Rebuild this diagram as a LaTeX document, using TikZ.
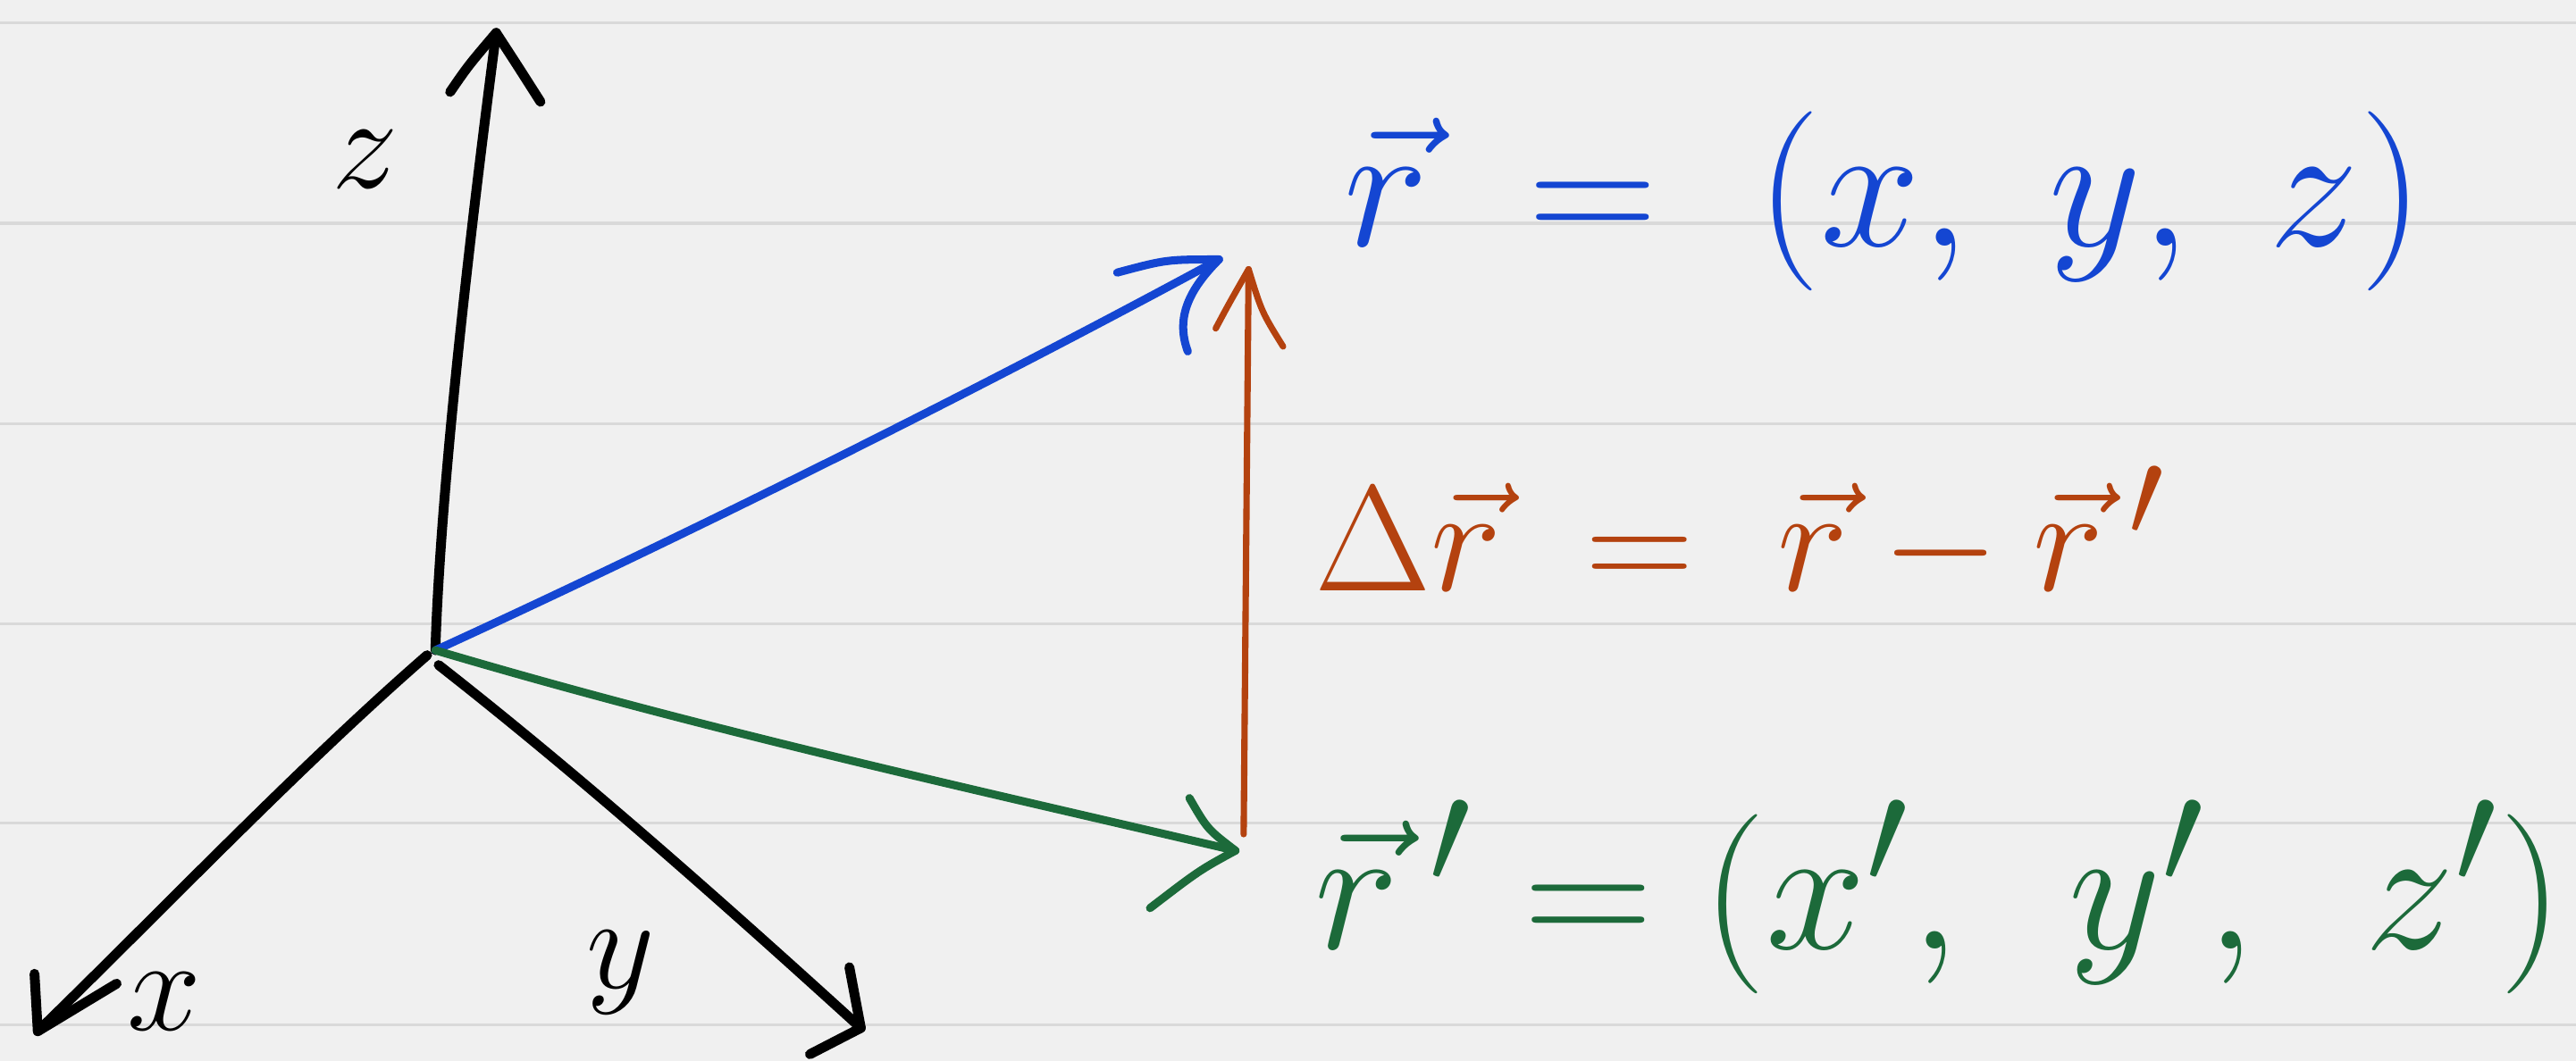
\documentclass[tikz,border=0pt]{standalone}
\usepackage{amsmath}
\usepackage{graphicx}
\definecolor{bgpaper}{HTML}{F0F0F0}
\definecolor{ruleline}{HTML}{D9D9D9}
\definecolor{pblue}{HTML}{1446D2}
\definecolor{porange}{HTML}{B4420F}
\definecolor{pgreen}{HTML}{1C6A3A}
\newcommand{\bigeq}[1]{\scalebox{2.5}{\Huge #1}}
\newcommand{\mideq}[1]{\scalebox{2.1}{\Huge #1}}
\newcommand{\axeq}[1]{\scalebox{1.85}{\Huge #1}}
\begin{document}
\begin{tikzpicture}[x=0.02cm,y=-0.02cm,line cap=round,line join=round,
  axisline/.style={line width=3.4pt,black},
  bluevec/.style={line width=2.8pt,pblue},
  greenvec/.style={line width=2.8pt,pgreen},
  orangevec/.style={line width=2.2pt,porange},
  biglabel/.style={inner sep=0pt,anchor=base west},
  axlabel/.style={inner sep=0pt}]
\fill[bgpaper] (0,0) rectangle (1568,646);
\useasboundingbox (0,0) rectangle (1568,646);
\foreach \yy in {14,136,258,380,501,624}
  \draw[ruleline,line width=1pt] (0,\yy) -- (1568,\yy);

% key points
\coordinate (O) at (265,396);
\coordinate (Zt) at (302,20);
\coordinate (Xt) at (23,628);
\coordinate (Yt) at (524,626);
\coordinate (R) at (742,158);
\coordinate (Rp) at (752,518);
\coordinate (Db) at (757,508);
\coordinate (Dt) at (760,164);

% axes
\draw[axisline] (O) .. controls (268,300) and (285,150) .. (Zt);
\draw[axisline] (274,56) .. controls (285,40) .. (Zt) .. controls (315,40) .. (329,62);
\draw[axisline] (260,399) .. controls (183,466) and (98,555) .. (Xt);
\draw[axisline] (21,593) -- (Xt) -- (71,599);
\draw[axisline] (267,405) .. controls (350,470) and (435,545) .. (Yt);
\draw[axisline] (517,589) -- (Yt) -- (493,642);

% vectors
\draw[bluevec] (O) .. controls (420,325) and (600,235) .. (R);
\draw[bluevec] (680,166) .. controls (710,158) .. (R) .. controls (722,178) and (716,195) .. (723,214);
\draw[greenvec] (O) .. controls (430,445) and (590,480) .. (Rp);
\draw[greenvec] (724,486) .. controls (735,505) .. (Rp) .. controls (730,530) .. (700,553);
\draw[orangevec] (Db) -- (Dt);
\draw[orangevec] (740,200) .. controls (748,185) .. (Dt) .. controls (768,190) .. (781,211);

% axis labels
\node[axlabel] (zl) at (222,97) {\axeq{$z$}};
\node[axlabel] (xl) at (100,610) {\axeq{$x$}};
\node[axlabel] (yl) at (378,592) {\axeq{$y$}};

% equations
\node[biglabel,text=pblue] (eqr) at (818,150) {\bigeq{$\vec r \;=\; (x,\; y,\; z)$}};
\node[biglabel,text=porange] (eqd) at (800,360) {\mideq{$\Delta\vec r \;=\; \vec r - \vec r\,'$}};
\node[biglabel,text=pgreen] (eqrp) at (800,578) {\bigeq{$\vec r\,' = (x',\;\, y',\;\, z')$}};
\end{tikzpicture}
\end{document}
